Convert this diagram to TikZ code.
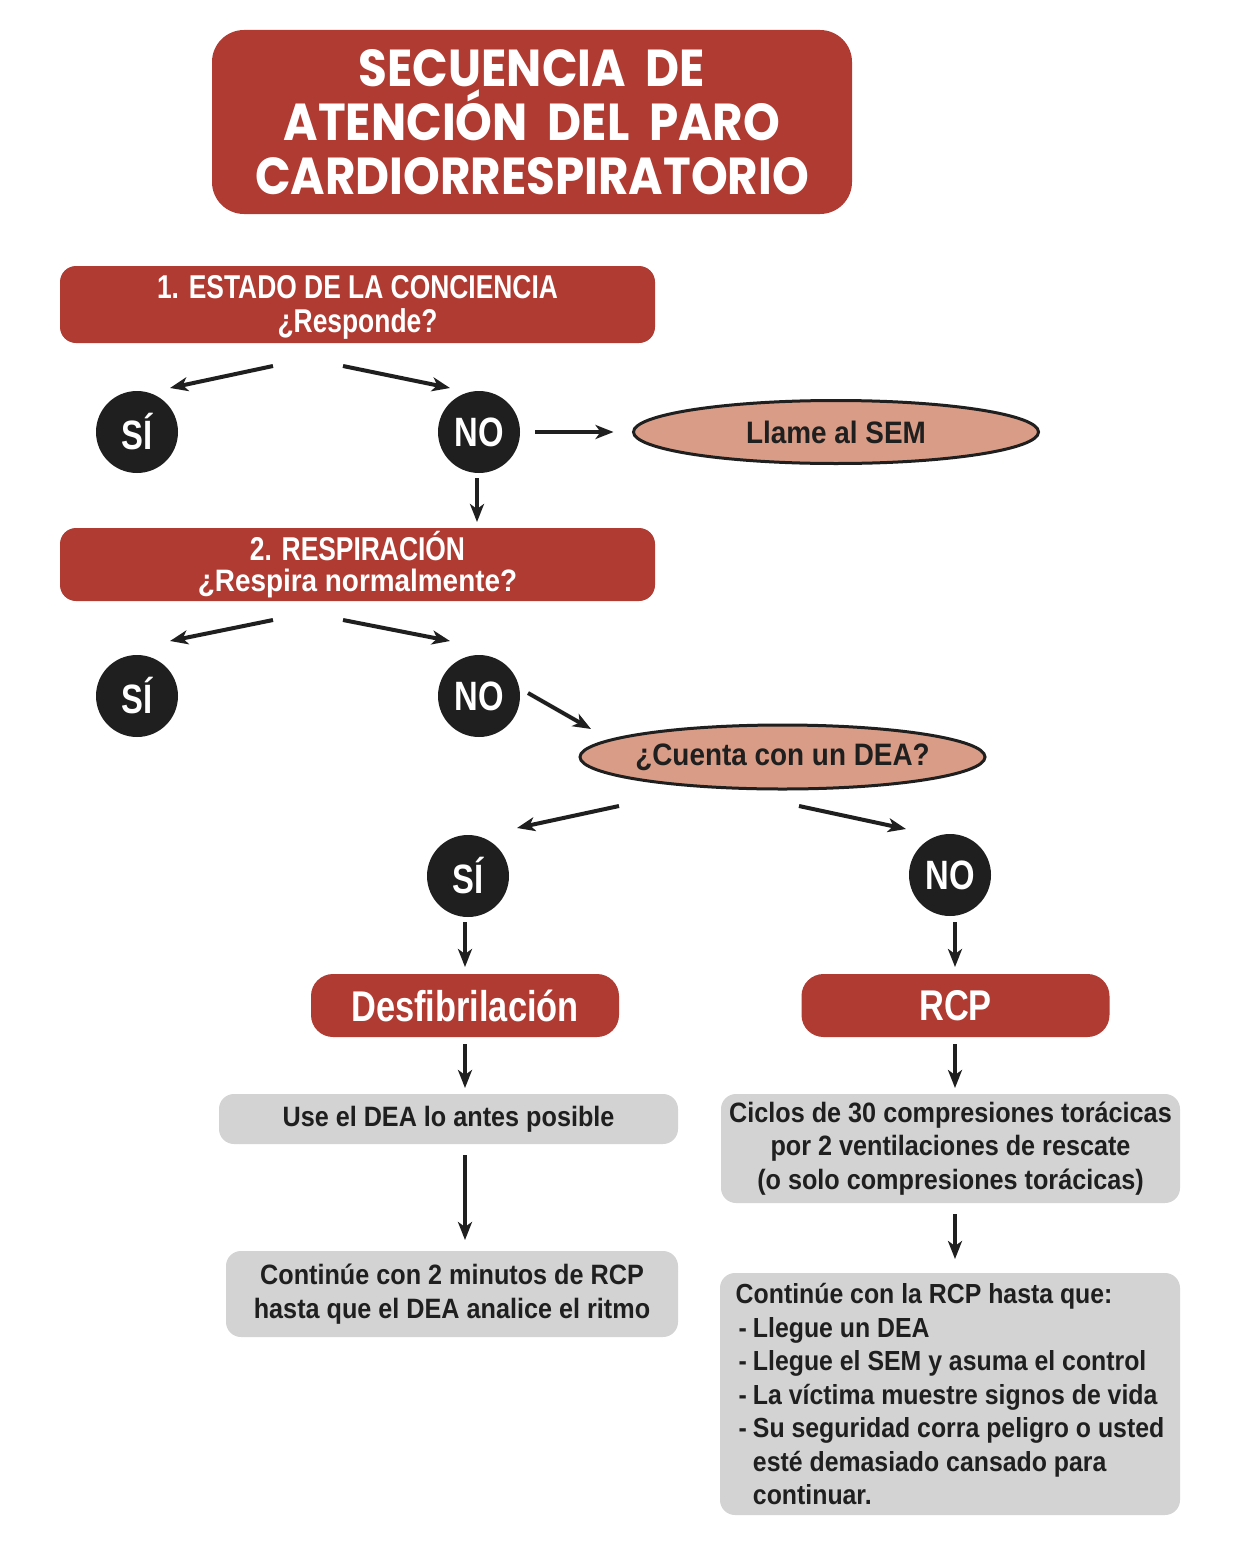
\documentclass[tikz,border=0pt]{standalone}
\usepackage{fontspec}
\setmainfont{Liberation Sans}
\newfontfamily\titlefont{Poppins}[FakeStretch=0.9]
\newfontfamily\condfont{Liberation Sans}[FakeStretch=0.8]
\newfontfamily\frankfont{Liberation Sans}[FakeStretch=0.9]
\usetikzlibrary{shapes.geometric,arrows.meta}
\definecolor{cred}{HTML}{B03B32}
\definecolor{csalmon}{HTML}{D99C86}
\definecolor{cgray}{HTML}{D3D3D3}
\definecolor{cdark}{HTML}{1F1F1F}
\newcommand\dashitem{\hspace*{1.5pt}-\hspace{3pt}}
\newcommand\dashcont{\hspace*{1.5pt}\phantom{-}\hspace{3pt}}
\begin{document}
\begin{tikzpicture}[x=0.5pt,y=-0.5pt,
  redbox/.style={fill=cred, rounded corners=8pt, inner sep=0pt, text=white, align=center,
    font=\condfont\bfseries\fontsize{16.5}{17}\selectfont},
  circ/.style={circle, fill=cdark, minimum size=41pt, inner sep=0pt, text=white,
    font=\condfont\bfseries\fontsize{20.5}{21}\selectfont},
  oval/.style={ellipse, draw=cdark, line width=1.5pt, fill=csalmon, inner sep=0pt,
    minimum width=202.5pt, text=cdark, font=\frankfont\bfseries\fontsize{15.5}{16}\selectfont},
  graybox/.style={fill=cgray, rounded corners=7.5pt, inner sep=0pt, text=cdark, align=center,
    minimum width=229.5pt, font=\frankfont\bfseries\fontsize{14}{16.75}\selectfont},
  arr/.style={line width=2pt, draw=cdark, -{Stealth[length=9pt,width=7pt,inset=2.5pt]}}
]
\useasboundingbox (0,0) rectangle (1252,1568);
\fill[white] (0,0) rectangle (1252,1568);

\node[redbox, rounded corners=16pt, minimum width=320pt, minimum height=92pt,
  font=\titlefont\bfseries\fontsize{26}{27}\selectfont] (title) at (532,122)
  {SECUENCIA\ \ DE\\ATENCIÓN\ \ DEL\ \ PARO\\CARDIORRESPIRATORIO};

\node[redbox, minimum width=297.5pt, minimum height=38.5pt] (b1) at (357.5,304.5)
  {\rule{0pt}{14pt}1. ESTADO DE LA CONCIENCIA\\¿Responde?};
\node[circ] (si1) at (137,432) {SÍ};
\node[circ] (no1) at (479,432) {NO};
\node[oval, minimum height=31.5pt] (sem) at (836,432) {\makebox[0pt]{Llame al SEM}};

\node[redbox, minimum width=297.5pt, minimum height=36.5pt,
  font=\condfont\bfseries\fontsize{16.5}{15.5}\selectfont] (b2) at (357.5,564.5)
  {2. RESPIRACIÓN\\{\frankfont\bfseries\fontsize{15.5}{15.5}\selectfont ¿Respira normalmente?}};
\node[circ] (si2) at (137,696) {SÍ};
\node[circ] (no2) at (479,696) {NO};
\node[oval, minimum height=32pt] (dea) at (782.5,757) {\makebox[0pt]{¿Cuenta con un DEA?}};

\node[circ] (si3) at (468,876) {SÍ};
\node[circ] (no3) at (950,875) {NO};

\node[redbox, rounded corners=11pt, minimum width=154pt, minimum height=31.5pt,
  font=\condfont\bfseries\fontsize{21.5}{22}\selectfont] (desf) at (465,1005.5) {Desfibrilación};
\node[redbox, rounded corners=11pt, minimum width=154pt, minimum height=31.5pt,
  font=\condfont\bfseries\fontsize{21.5}{22}\selectfont] (rcp) at (955.5,1005.5) {RCP};

\node[graybox, minimum height=25pt] (use) at (448.5,1119) {Use el DEA lo antes posible};
\node[graybox, minimum height=54.5pt] (ciclos) at (950.5,1148.5)
  {Ciclos de 30 compresiones torácicas\\por 2 ventilaciones de rescate\\(o solo compresiones torácicas)};
\node[graybox, minimum width=226pt, minimum height=43pt] (cont2) at (452,1294)
  {Continúe con 2 minutos de RCP\\hasta que el DEA analice el ritmo};
\node[graybox, minimum width=230pt, minimum height=121pt, align=left,
  font=\frankfont\bfseries\fontsize{13.8}{16.75}\selectfont] (cont3) at (950,1394)
  {Continúe con la RCP hasta que:\\
   \dashitem Llegue un DEA\\
   \dashitem Llegue el SEM y asuma el control\\
   \dashitem La víctima muestre signos de vida\\
   \dashitem Su seguridad corra peligro o usted\\
   \dashcont esté demasiado cansado para\\
   \dashcont continuar.};

% arrow end points
\coordinate (a1s) at (273,366);  \coordinate (a1e) at (170,388);
\coordinate (a2s) at (343,366);  \coordinate (a2e) at (450,388);
\coordinate (a4s) at (477,478);  \coordinate (a4e) at (477,522);
\coordinate (a5s) at (273,620);  \coordinate (a5e) at (170,641);
\coordinate (a6s) at (343,620);  \coordinate (a6e) at (450,641);
\coordinate (a7s) at (528,693);  \coordinate (a7e) at (591,729);
\coordinate (a8s) at (619,806);  \coordinate (a8e) at (517,828);
\coordinate (a9s) at (799,806);  \coordinate (a9e) at (906,829);
\coordinate (a10s) at (465,922); \coordinate (a10e) at (465,967);
\coordinate (a11s) at (955,922); \coordinate (a11e) at (955,967);
\coordinate (a12s) at (465,1044); \coordinate (a12e) at (465,1088);
\coordinate (a13s) at (955,1044); \coordinate (a13e) at (955,1088);
\coordinate (a14s) at (465,1155); \coordinate (a14e) at (465,1240);
\coordinate (a15s) at (955,1214); \coordinate (a15e) at (955,1259);

\draw[arr] (a1s) -- (a1e);
\draw[arr] (a2s) -- (a2e);
\draw[arr, shorten <=7.5pt, shorten >=9.25pt] (no1) -- (sem);
\draw[arr] (a4s) -- (a4e);
\draw[arr] (a5s) -- (a5e);
\draw[arr] (a6s) -- (a6e);
\draw[arr] (a7s) -- (a7e);
\draw[arr] (a8s) -- (a8e);
\draw[arr] (a9s) -- (a9e);
\draw[arr] (a10s) -- (a10e);
\draw[arr] (a11s) -- (a11e);
\draw[arr] (a12s) -- (a12e);
\draw[arr] (a13s) -- (a13e);
\draw[arr] (a14s) -- (a14e);
\draw[arr] (a15s) -- (a15e);
\end{tikzpicture}
\end{document}
